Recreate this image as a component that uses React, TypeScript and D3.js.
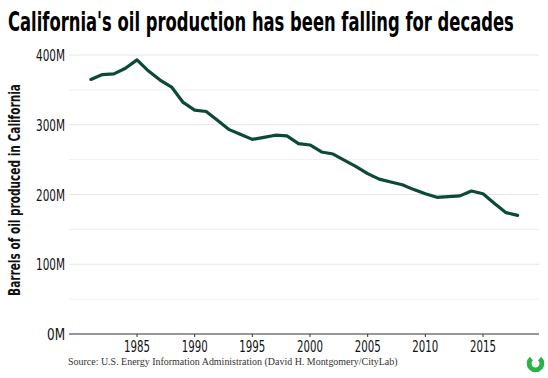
import React, { useLayoutEffect, useRef, useState } from "react";
import * as d3 from "d3";

const years = [1981,1982,1983,1984,1985,1986,1987,1988,1989,1990,1991,1992,1993,1994,1995,1996,1997,1998,1999,2000,2001,2002,2003,2004,2005,2006,2007,2008,2009,2010,2011,2012,2013,2014,2015,2016,2017,2018];
const production = [365,372,373,381,393,377,364,354,332,321,319,306,293,286,279,282,285,284,273,271,261,258,249,240,230,222,218,214,207,201,196,197,198,205,201,187,174,170];
const yTicks = [0,100,200,300,400];
const yMinor = [50,150,250,350];
const xTicks = [1985,1990,1995,2000,2005,2010,2015];

const W = 548, H = 378;
const cond = "'DejaVu Sans Condensed', 'DejaVu Sans', sans-serif";

type FitProps = {
  x: number; y: number; width: number; anchor?: "start" | "middle" | "end"; rotate?: number;
  children: string; [k: string]: any;
};

function FitText({ x, y, width, anchor = "start", rotate = 0, children, ...rest }: FitProps) {
  const ref = useRef<SVGTextElement>(null);
  const [sx, setSx] = useState(1);
  useLayoutEffect(() => {
    if (ref.current) {
      const w = ref.current.getComputedTextLength();
      if (w > 0) setSx(width / w);
    }
  }, [width, children]);
  return (
    <g transform={`translate(${x},${y}) rotate(${rotate}) scale(${sx},1)`}>
      <text ref={ref} x={0} y={0} textAnchor={anchor} {...rest}>{children}</text>
    </g>
  );
}

export default function App() {
  const x = d3.scaleLinear().domain([1985, 2015]).range([137, 483]);
  const y = d3.scaleLinear().domain([0, 400]).range([334, 55]);
  const left = 69, right = 539;
  const line = d3.line<number>().x((_, i) => x(years[i])).y(d => y(d)).curve(d3.curveLinear);
  return (
    <svg width={W} height={H} style={{ position: "absolute", left: 0, top: 0, background: "#fff" }}>
      <rect width={W} height={H} fill="#fff" />
      <FitText x={8} y={31} width={506} fontFamily={cond} fontWeight="bold" fontSize={26} fill="#000">
        California's oil production has been falling for decades
      </FitText>
      {yMinor.map(v => (
        <line key={"m" + v} x1={left} x2={right} y1={y(v)} y2={y(v)} stroke="#efefef" strokeWidth={1} />
      ))}
      {yTicks.filter(v => v > 0).map(v => (
        <line key={"g" + v} x1={left} x2={right} y1={y(v)} y2={y(v)} stroke="#e6e6e6" strokeWidth={1} />
      ))}
      {yTicks.map(v => (
        <FitText key={"t" + v} x={65} y={y(v) + 6} anchor="end" width={v === 0 ? 18 : 29} fontFamily={cond} fontSize={16} fill="#111">
          {v + "M"}
        </FitText>
      ))}
      <line x1={left} x2={right} y1={y(0)} y2={y(0)} stroke="#333" strokeWidth={1.2} />
      {xTicks.map(t => (
        <g key={"x" + t}>
          <line x1={x(t)} x2={x(t)} y1={y(0)} y2={y(0) + 3} stroke="#333" strokeWidth={1} />
          <FitText x={x(t)} y={352} anchor="middle" width={26} fontFamily={cond} fontSize={16} fill="#111">
            {String(t)}
          </FitText>
        </g>
      ))}
      <path d={line(production) || ""} fill="none" stroke="#0b4a33" strokeWidth={3.2} strokeLinejoin="round" strokeLinecap="round" />
      <FitText x={20} y={190} rotate={-90} anchor="middle" width={212} fontFamily={cond} fontWeight="bold" fontSize={15} fill="#111">
        Barrels of oil produced in California
      </FitText>
      <FitText x={68} y={365} width={330} fontFamily="'Liberation Serif', 'DejaVu Serif', serif" fontSize={11} fill="#333">
        Source: U.S. Energy Information Administration (David H. Montgomery/CityLab)
      </FitText>
      <path d={d3.arc()({ innerRadius: 4, outerRadius: 8.8, startAngle: Math.PI * 0.22, endAngle: Math.PI * 1.78 }) || ""} transform="translate(535.5,363.5)" fill="#2bb34b" />
    </svg>
  );
}
